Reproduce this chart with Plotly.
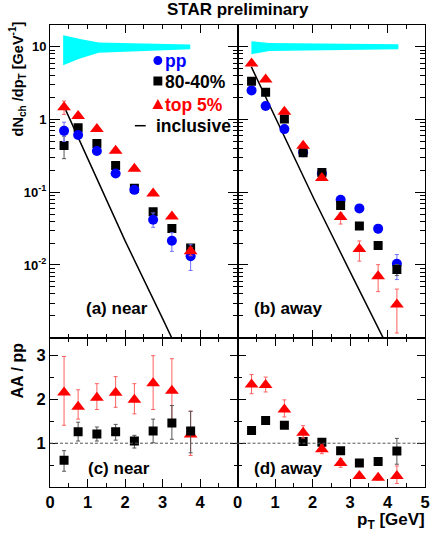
"""STAR preliminary: near/away pT spectra and AA/pp ratios."""

import plotly.graph_objects as go

# ---------- data ----------
pt_near = [0.375, 0.75, 1.25, 1.75, 2.25, 2.75, 3.25, 3.75]
pt_away = [0.375, 0.75, 1.25, 1.75, 2.25, 2.75, 3.25, 3.75, 4.25]

# (a) near-side yields
near_pp = [0.70, 0.615, 0.37, 0.181, 0.108, 0.042, 0.0216, 0.0132]
near_pp_up = [0.22, 0.03, 0.02, 0.01, 0.006, 0.010, 0.0062, 0.0058]
near_pp_dn = [0.20, 0.03, 0.02, 0.01, 0.006, 0.009, 0.0062, 0.0048]
near_mid = [0.44, 0.77, 0.47, 0.233, 0.114, 0.054, 0.0318, 0.0171]
near_mid_up = [0.15, 0.05, 0.02, 0.01, 0.005, 0.004, 0.002, 0.0015]
near_mid_dn = [0.15, 0.05, 0.02, 0.01, 0.005, 0.004, 0.002, 0.0015]
near_cen = [1.48, 1.12, 0.74, 0.374, 0.21, 0.0964, 0.0466, 0.0154]
near_cen_up = [0.32, 0.05, 0.03, 0.01, 0.006, 0.004, 0.003, 0.002]
near_cen_dn = [0.30, 0.05, 0.03, 0.01, 0.006, 0.004, 0.003, 0.002]

# (b) away-side yields
away_pp = [2.52, 1.54, 0.74, 0.356, 0.183, 0.079, 0.060, 0.0316, 0.0104]
away_pp_up = [0.05, 0.04, 0.02, 0.01, 0.005, 0.004, 0.005, 0.004, 0.0035]
away_pp_dn = [0.05, 0.04, 0.02, 0.01, 0.005, 0.004, 0.005, 0.004, 0.0041]
away_mid = [3.38, 2.37, 1.02, 0.35, 0.187, 0.066, 0.0343, 0.0185, 0.00865]
away_mid_up = [0.05, 0.04, 0.02, 0.01, 0.005, 0.003, 0.002, 0.0015, 0.0015]
away_mid_dn = [0.05, 0.04, 0.02, 0.01, 0.005, 0.003, 0.002, 0.0015, 0.0015]
away_cen = [5.9, 3.57, 1.28, 0.435, 0.157, 0.0457, 0.0166, 0.0070, 0.00286]
away_cen_up = [0.1, 0.1, 0.05, 0.02, 0.01, 0.0062, 0.0048, 0.0031, 0.0018]
away_cen_dn = [0.1, 0.1, 0.05, 0.02, 0.01, 0.0091, 0.0053, 0.0027, 0.0017]

# inclusive spectra (black lines)
incl_x_near = [0.42, 1.0, 2.0, 3.0, 3.3]
incl_near = [1.35, 0.29, 0.0216, 0.00184, 0.00087]
incl_x_away = [0.37, 1.0, 2.05, 3.0, 3.95]
incl_away = [5.3, 1.1, 0.079, 0.0081, 0.00085]

# systematic bands (cyan)
band_x_near = [0.35, 0.8, 1.3, 3.74]
band_hi_near = [14.5, 12.8, 11.5, 10.8]
band_lo_near = [5.6, 6.9, 8.3, 9.3]
band_x_away = [0.37, 0.85, 4.29]
band_hi_away = [12.0, 11.3, 10.9]
band_lo_away = [7.94, 8.8, 9.3]

# (c) near-side AA/pp
rnear_mid = [0.61, 1.26, 1.21, 1.26, 1.05, 1.28, 1.46, 1.28]
rnear_mid_up = [0.22, 0.22, 0.16, 0.17, 0.13, 0.27, 0.40, 0.45]
rnear_mid_dn = [0.25, 0.21, 0.16, 0.19, 0.16, 0.27, 0.37, 0.50]
rnear_cen = [2.16, 1.83, 2.04, 2.15, 1.99, 2.37, 2.20, 1.20]
rnear_cen_up = [0.82, 0.39, 0.32, 0.37, 0.37, 0.63, 0.73, 0.53]
rnear_cen_dn = [0.75, 0.28, 0.27, 0.33, 0.32, 0.60, 0.68, 0.48]

# (d) away-side AA/pp
raway_mid = [1.29, 1.52, 1.41, 1.04, 1.02, 0.83, 0.55, 0.58, 0.82]
raway_mid_up = [0.06, 0.04, 0.04, 0.04, 0.05, 0.06, 0.06, 0.07, 0.29]
raway_mid_dn = [0.06, 0.04, 0.04, 0.04, 0.05, 0.06, 0.06, 0.07, 0.30]
raway_cen = [2.34, 2.33, 1.77, 1.24, 0.86, 0.55, 0.25, 0.21, 0.25]
raway_cen_up = [0.23, 0.18, 0.22, 0.16, 0.10, 0.10, 0.05, 0.05, 0.23]
raway_cen_dn = [0.21, 0.16, 0.17, 0.12, 0.10, 0.10, 0.05, 0.05, 0.17]

# ---------- styles ----------
C_PP, C_MID, C_CEN = "#0000ff", "#000000", "#ff0000"
E_PP, E_MID, E_CEN = "#7070ff", "#555555", "#ff6060"
FONT = "Liberation Sans, Arial, sans-serif"

fig = go.Figure()


def add_points(x, y, up, dn, color, ecolor, symbol, size, xa, ya):
    fig.add_trace(go.Scatter(
        x=x, y=y, mode="markers", xaxis=xa, yaxis=ya, showlegend=False,
        marker=dict(symbol=symbol, color=color, size=size, line=dict(width=0)),
        error_y=dict(type="data", array=up, arrayminus=dn, color=ecolor,
                     thickness=1, width=2),
        cliponaxis=True,
    ))


def add_band(x, hi, lo, xa, ya):
    fig.add_trace(go.Scatter(
        x=list(x) + list(x)[::-1], y=list(hi) + list(lo)[::-1],
        fill="toself", fillcolor="#00ffff", line=dict(width=0),
        mode="lines", xaxis=xa, yaxis=ya, showlegend=False, hoverinfo="skip",
    ))


# bands
add_band(band_x_near, band_hi_near, band_lo_near, "x", "y")
add_band(band_x_away, band_hi_away, band_lo_away, "x2", "y2")

# inclusive lines
for xs, ys, xa, ya in [(incl_x_near, incl_near, "x", "y"),
                       (incl_x_away, incl_away, "x2", "y2")]:
    fig.add_trace(go.Scatter(x=xs, y=ys, mode="lines", xaxis=xa, yaxis=ya,
                             line=dict(color="black", width=1.5),
                             showlegend=False))

# (a) near
add_points(pt_near, near_mid, near_mid_up, near_mid_dn, C_MID, E_MID, "square", 9, "x", "y")
add_points(pt_near, near_pp, near_pp_up, near_pp_dn, C_PP, E_PP, "circle", 10, "x", "y")
add_points(pt_near, near_cen, near_cen_up, near_cen_dn, C_CEN, E_CEN, "triangle-up", 12, "x", "y")
# (b) away
add_points(pt_away, away_pp, away_pp_up, away_pp_dn, C_PP, E_PP, "circle", 10, "x2", "y2")
add_points(pt_away, away_mid, away_mid_up, away_mid_dn, C_MID, E_MID, "square", 9, "x2", "y2")
add_points(pt_away, away_cen, away_cen_up, away_cen_dn, C_CEN, E_CEN, "triangle-up", 12, "x2", "y2")
# (c) near ratios
add_points(pt_near, rnear_cen, rnear_cen_up, rnear_cen_dn, C_CEN, E_CEN, "triangle-up", 12, "x3", "y3")
add_points(pt_near, rnear_mid, rnear_mid_up, rnear_mid_dn, C_MID, E_MID, "square", 9, "x3", "y3")
# (d) away ratios
add_points(pt_away, raway_mid, raway_mid_up, raway_mid_dn, C_MID, E_MID, "square", 9, "x4", "y4")
add_points(pt_away, raway_cen, raway_cen_up, raway_cen_dn, C_CEN, E_CEN, "triangle-up", 12, "x4", "y4")

# ---------- axes ----------
SPLIT = 0.3232
common = dict(showline=True, linecolor="black", linewidth=1, mirror="allticks",
              ticks="inside", tickcolor="black", zeroline=False, showgrid=False,
              ticklabeloverflow="allow")
tickfont = dict(family=FONT, size=16.5, color="black", weight="bold")
xcommon = dict(common, range=[0, 5], ticklen=8,
               minor=dict(dtick=0.5, ticks="inside", ticklen=4, tickcolor="black"))
log_minor = [m * 10.0 ** e for e in range(-3, 2) for m in range(2, 10)]
ycommon_log = dict(common, type="log", range=[-3, 1.301], ticklen=10,
                   tickvals=[0.01, 0.1, 1, 10],
                   ticktext=["10<sup>-2</sup>", "10<sup>-1</sup>", "1", "10"],
                   tickfont=dict(family=FONT, size=13, color="black", weight="bold"),
                   minor=dict(tickvals=log_minor, ticks="inside", ticklen=5,
                              tickcolor="black"))
ycommon_lin = dict(common, range=[0, 3.41], ticklen=8, tickvals=[1, 2, 3],
                   tickfont=tickfont,
                   minor=dict(tickvals=[0.5, 1.5, 2.5], ticks="inside", ticklen=4,
                              tickcolor="black"))

fig.update_layout(
    xaxis=dict(xcommon, domain=[0, 0.5], anchor="y", showticklabels=False),
    xaxis2=dict(xcommon, domain=[0.5, 1], anchor="y2", showticklabels=False),
    xaxis3=dict(xcommon, domain=[0, 0.5], anchor="y3", tickvals=[0, 1, 2, 3, 4],
                tickfont=tickfont),
    xaxis4=dict(xcommon, domain=[0.5, 1], anchor="y4", tickvals=[0, 1, 2, 3, 4, 5],
                tickfont=tickfont),
    yaxis=dict(ycommon_log, domain=[SPLIT, 1], anchor="x"),
    yaxis2=dict(ycommon_log, domain=[SPLIT, 1], anchor="x2", showticklabels=False),
    yaxis3=dict(ycommon_lin, domain=[0, SPLIT], anchor="x3"),
    yaxis4=dict(ycommon_lin, domain=[0, SPLIT], anchor="x4", showticklabels=False),
)

# dashed unity lines
for xr, yr in [("x3", "y3"), ("x4", "y4")]:
    fig.add_shape(type="line", xref=f"{xr} domain", yref=yr, x0=0, x1=1, y0=1, y1=1,
                  line=dict(color="#555555", width=1, dash="3px,2px"))

# ---------- legend (drawn by hand, ROOT style) ----------
L, W, B, H = 50, 380, 487, 462


def px(x):
    return (x - L) / W


def py(y):
    return (B - y) / H


r = 4.5
fig.add_shape(type="circle", xref="paper", yref="paper", fillcolor=C_PP, line_width=0,
              x0=px(159.3 - r), x1=px(159.3 + r), y0=py(60.5 + r), y1=py(60.5 - r))
fig.add_shape(type="rect", xref="paper", yref="paper", fillcolor=C_MID, line_width=0,
              x0=px(159.3 - r), x1=px(159.3 + r), y0=py(81 + r), y1=py(81 - r))
fig.add_shape(type="path", xref="paper", yref="paper", fillcolor=C_CEN, line_width=0,
              path=f"M {px(153.8)} {py(109)} L {px(164.8)} {py(109)} "
                   f"L {px(159.3)} {py(99)} Z")
fig.add_shape(type="line", xref="paper", yref="paper", line=dict(color="black", width=1.5),
              x0=px(136), x1=px(147), y0=py(125.7), y1=py(125.7))

legend_items = [("pp", C_PP, 61.5), ("80-40%", C_MID, 82), ("top 5%", C_CEN, 105),
                ("inclusive", "black", 126)]
for text, color, yy in legend_items:
    x0 = 155 if text == "inclusive" else 164
    fig.add_annotation(text=text, xref="paper", yref="paper", x=px(x0), y=py(yy),
                       xanchor="left", yanchor="middle", showarrow=False,
                       font=dict(family=FONT, size=17.5, color=color, weight="bold"))


# ---------- texts ----------
def label(text, x, y, size=17, xanchor="left", angle=0):
    fig.add_annotation(text=text, xref="paper", yref="paper", x=px(x), y=py(y),
                       xanchor=xanchor, yanchor="middle", showarrow=False, textangle=angle,
                       font=dict(family=FONT, size=size, color="black", weight="bold"))


label("STAR preliminary", 240, 10, size=17, xanchor="center")
label("(a) near", 84.5, 308)
label("(b) away", 254.5, 308)
label("(c) near", 86, 468)
label("(d) away", 255, 468)
label("p<sub>T</sub> [GeV]", 432, 521, xanchor="right")
label("dN<sub>ch</sub> /dp<sub>T</sub> [GeV<sup>-1</sup>]", 17, 79, size=14.5,
      xanchor="center", angle=-90)
label("AA / pp", 17, 370, size=16, xanchor="center", angle=-90)

fig.update_layout(
    width=436, height=537,
    margin=dict(l=50, r=6, t=25, b=50),
    paper_bgcolor="white", plot_bgcolor="white",
    showlegend=False,
    font=dict(family=FONT, color="black"),
)

# the page's default body margin would shift the figure by 8px
fig.write_html("out.html", config={"displayModeBar": False},
               post_script="document.body.style.margin = '0px';")
